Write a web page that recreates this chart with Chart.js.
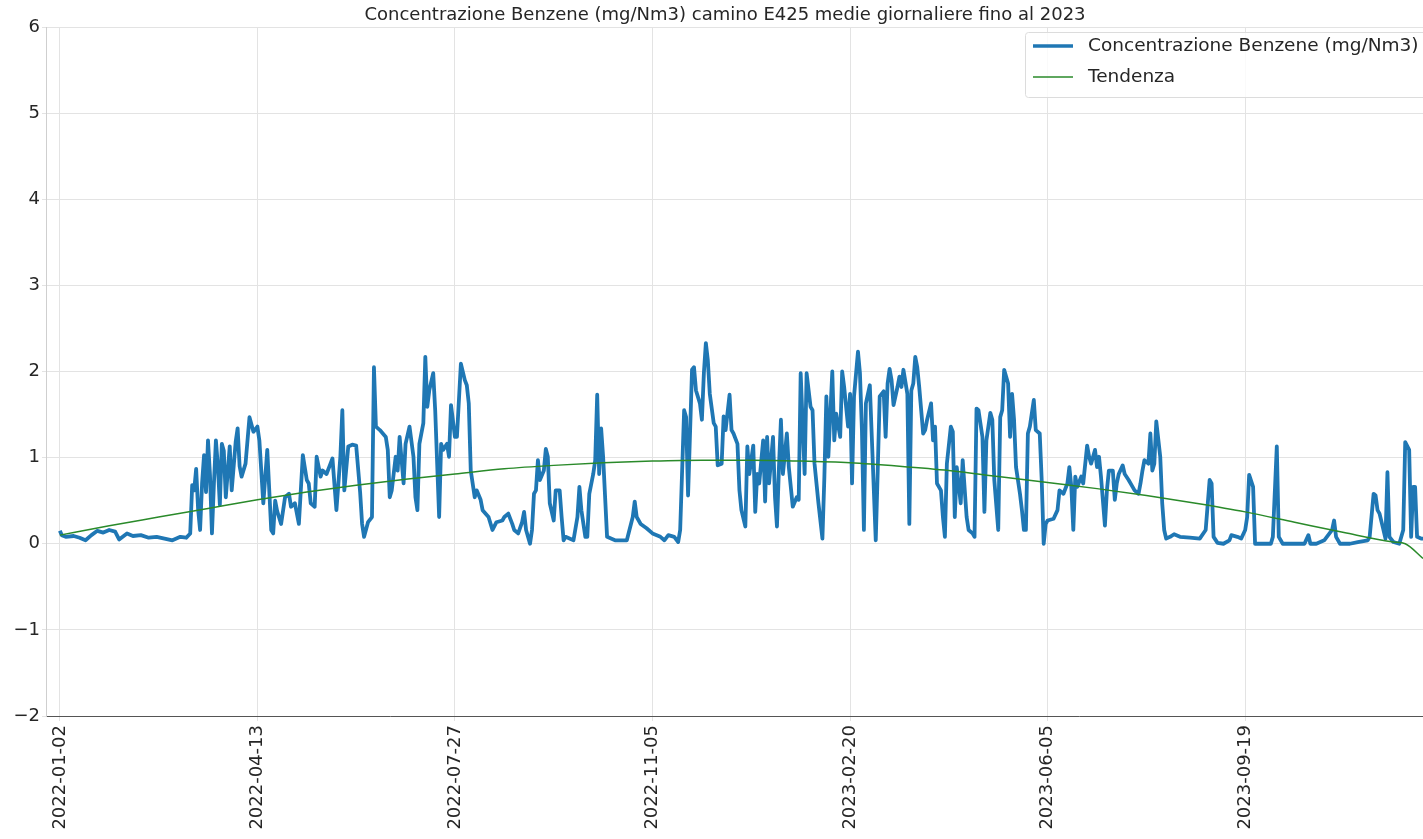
<!DOCTYPE html>
<html lang="it">

<head>
    <meta charset="UTF-8">
    <title>Concentrazione Benzene E425</title>
    <script src="https://cdn.jsdelivr.net/npm/chart.js"></script>
    <style>
        body { margin: 0; background: #fff; overflow: hidden; }
        .wrap { width: 1423px; height: 839px; position: relative; }
    </style>
</head>

<body>
    <div class="wrap"><canvas id="chart"></canvas></div>

    <script>
        // tick sull'asse x (indice del giorno -> data)
        const tickDays = [0, 100, 200, 300, 400, 500, 600];
        const tickDates = ['2022-01-02', '2022-04-13', '2022-07-27', '2022-11-05', '2023-02-20', '2023-06-05', '2023-09-19'];

        // medie giornaliere benzene (indice giorno / valore mg/Nm3)
        const benzeneDay = [
            0, 1, 3, 7, 10, 13, 16, 19, 22, 25, 28, 30, 34, 37, 41, 45, 49, 53, 57, 61, 64, 66,
            67, 68, 69, 70, 71, 72, 73, 74, 75, 76, 77, 78, 79, 80, 81, 82, 83, 84, 86, 87, 88, 89, 90, 91, 92, 94, 96, 98, 100, 101, 103, 105,
            107, 108, 109, 110, 112, 114, 116, 117, 119, 121, 123, 125, 126, 127, 129, 130, 132, 133, 135, 137, 138, 140, 142, 143, 144, 146, 148, 150, 152, 153, 154, 156, 158,
            159, 160, 162, 165, 166, 167, 168, 170, 171, 172, 174, 175, 177, 179, 180, 181, 182, 184, 185, 186, 187, 189, 190, 192, 193, 194, 196, 197, 198, 200, 201, 203, 205, 206, 207, 208, 210, 211, 213, 214, 217, 219, 221, 224,
            225, 227, 229, 230, 232, 234, 235, 236, 238, 239, 240, 241, 242, 243, 245, 246, 247, 248, 250, 251, 253, 254, 255, 256, 258, 260, 262, 263, 264, 266, 267, 268, 270, 271, 272, 273, 274, 275, 277, 279, 281, 284, 287, 290, 291, 292, 294, 297, 300, 304, 306, 308, 311, 313, 314,
            316, 317, 318, 320, 321, 322, 324, 325, 326, 327, 328, 329, 331, 332, 333, 335, 336, 337, 339, 340,
            341, 343, 344, 345, 347, 348, 349, 351, 352, 353, 354, 356, 357, 358, 359, 361, 362, 363, 364, 365, 366, 368, 369, 371, 373, 374, 375, 377, 378, 380, 381, 382, 384, 386, 387, 388, 389, 391, 392, 393, 395, 396, 397, 399, 400,
            401, 402, 404, 405, 406, 407, 408, 410, 411, 413, 414, 415, 417, 418, 419, 420, 421, 422, 424, 425, 426, 427, 429, 430, 431, 432, 433, 434, 435, 437, 438, 439, 441, 442, 443, 444, 446, 447, 448, 449, 451, 452, 453, 454, 456,
            457, 459, 460, 462, 463, 464, 465, 467, 468, 469, 471, 472, 473, 475, 476, 477, 478, 480, 481, 482, 483, 484, 486, 487, 488, 489, 490, 491, 493, 494, 496, 497, 498, 499, 500,
            503, 505, 506, 508, 510, 511, 512, 513, 514, 515, 517, 518, 520, 521, 522, 524, 525, 526, 527, 529, 530, 531, 533, 534, 535, 536, 538, 539, 541, 543, 544, 546, 547, 548, 549, 551, 552, 553, 554, 555, 557, 558, 559, 560, 562, 564, 567, 572, 577,
            580, 582, 583, 584, 586, 589, 592, 593, 596, 598, 600, 601, 602, 604, 605, 608, 613, 614, 616, 617, 619, 623, 630, 632, 633, 636, 640, 644, 645, 646, 648, 653, 657, 662, 663,
            665, 666, 667, 668, 670, 671, 672, 673, 675, 678, 680, 681, 683, 684, 685, 686, 687, 689, 690
        ];
        const benzeneVal = [
            0.15, 0.10, 0.08, 0.09, 0.07, 0.04, 0.10, 0.15, 0.13, 0.16, 0.14, 0.05, 0.12, 0.09, 0.10, 0.07, 0.08, 0.06, 0.04, 0.08, 0.07, 0.12,
            0.68, 0.62, 0.87, 0.40, 0.16, 0.70, 1.03, 0.60, 1.20, 0.80, 0.12, 0.70, 1.20, 0.90, 0.45, 1.16, 1.08, 0.54, 1.13, 0.62, 0.90, 1.18, 1.34, 0.90, 0.78, 0.93, 1.47, 1.30, 1.36, 1.20, 0.47, 1.09,
            0.16, 0.12, 0.50, 0.38, 0.23, 0.54, 0.58, 0.43, 0.47, 0.23, 1.03, 0.74, 0.70, 0.47, 0.43, 1.01, 0.78, 0.85, 0.81, 0.93, 0.99, 0.39, 1.01, 1.55, 0.62, 1.13, 1.15, 1.14, 0.60, 0.23, 0.08, 0.25, 0.31,
            2.05, 1.36, 1.32, 1.24, 1.09, 0.54, 0.62, 1.01, 0.85, 1.24, 0.70, 1.16, 1.36, 1.01, 0.54, 0.39, 1.16, 1.40, 2.17, 1.59, 1.78, 1.98, 1.55, 0.31, 1.16, 1.09, 1.16, 1.01, 1.61, 1.24, 1.24, 2.09, 1.90, 1.84, 1.63, 0.85, 0.54, 0.62, 0.51, 0.39, 0.31, 0.16, 0.25, 0.27,
            0.31, 0.35, 0.23, 0.16, 0.12, 0.25, 0.37, 0.16, 0.00, 0.16, 0.58, 0.62, 0.97, 0.74, 0.85, 1.10, 1.01, 0.47, 0.27, 0.62, 0.62, 0.31, 0.04, 0.08, 0.06, 0.04, 0.31, 0.66, 0.39, 0.08, 0.08, 0.58, 0.81, 0.97, 1.73, 0.81, 1.34, 1.01, 0.08, 0.06, 0.04, 0.04, 0.04, 0.31, 0.49, 0.31, 0.23, 0.18, 0.12, 0.08, 0.04, 0.10, 0.08, 0.02, 0.16,
            1.55, 1.47, 0.56, 2.02, 2.05, 1.78, 1.63, 1.44, 1.98, 2.33, 2.13, 1.74, 1.40, 1.36, 0.91, 0.93, 1.48, 1.32, 1.73, 1.32,
            1.28, 1.16, 0.62, 0.39, 0.20, 1.13, 0.81, 1.14, 0.37, 0.81, 0.70, 1.20, 0.49, 1.24, 0.70, 1.24, 0.54, 0.20, 0.89, 1.44, 0.81, 1.28, 0.89, 0.43, 0.54, 0.51, 1.98, 0.81, 1.98, 1.59, 1.55, 0.93, 0.47, 0.06, 0.78, 1.71, 1.01, 2.00, 1.20, 1.51, 1.24, 2.00, 1.82, 1.36, 1.74,
            0.70, 1.71, 2.23, 1.98, 1.32, 0.16, 1.63, 1.84, 1.24, 0.04, 0.85, 1.71, 1.77, 1.24, 1.86, 2.03, 1.90, 1.61, 1.82, 1.94, 1.82, 2.02, 1.74, 0.23, 1.78, 1.86, 2.17, 2.05, 1.82, 1.28, 1.32, 1.44, 1.63, 1.20, 1.36, 0.70, 0.62, 0.31, 0.08, 0.93, 1.36, 1.30, 0.31, 0.89, 0.47,
            0.97, 0.31, 0.16, 0.12, 0.08, 1.57, 1.55, 1.24, 0.37, 1.20, 1.52, 1.44, 0.74, 0.16, 1.47, 1.55, 2.02, 1.86, 1.24, 1.74, 1.44, 0.89, 0.58, 0.39, 0.16, 0.16, 1.28, 1.36, 1.67, 1.32, 1.28, 0.74, 0.00, 0.23, 0.27,
            0.29, 0.39, 0.62, 0.58, 0.70, 0.89, 0.66, 0.16, 0.78, 0.66, 0.78, 0.70, 1.14, 1.01, 0.93, 1.09, 0.89, 1.01, 0.78, 0.21, 0.62, 0.85, 0.85, 0.51, 0.70, 0.81, 0.91, 0.81, 0.74, 0.66, 0.62, 0.58, 0.70, 0.85, 0.97, 0.93, 1.28, 0.85, 0.93, 1.42, 1.01, 0.47, 0.16, 0.06, 0.08, 0.11, 0.08, 0.07, 0.06,
            0.16, 0.74, 0.70, 0.08, 0.01, 0.00, 0.04, 0.10, 0.08, 0.06, 0.16, 0.31, 0.80, 0.66, 0.00, 0.00, 0.00, 0.08, 1.13, 0.08, 0.00, 0.00, 0.00, 0.10, 0.00, 0.00, 0.04, 0.16, 0.27, 0.08, 0.00, 0.00, 0.02, 0.04, 0.08,
            0.58, 0.56, 0.39, 0.35, 0.16, 0.06, 0.83, 0.08, 0.02, 0.00, 0.16, 1.18, 1.09, 0.08, 0.66, 0.66, 0.08, 0.06, 0.06
        ];

        // linea di tendenza
        const trendDay = [0, 25, 50, 75, 100, 125, 150, 175, 200, 225, 250, 275, 300, 325, 350, 375, 400, 425, 450, 475, 500, 525, 550, 575, 600, 625, 650, 675, 681, 690];
        const trendVal = [0.10, 0.21, 0.31, 0.41, 0.51, 0.60, 0.68, 0.75, 0.81, 0.87, 0.91, 0.94, 0.96, 0.97, 0.97, 0.96, 0.94, 0.90, 0.85, 0.78, 0.71, 0.64, 0.56, 0.47, 0.37, 0.25, 0.13, 0.02, 0.00, -0.17];

        const titolo = 'Concentrazione Benzene (mg/Nm3) camino E425 medie giornaliere fino al 2023';
        const serieNomi = ['Concentrazione Benzene (mg/Nm3)', 'Tendenza'];
        const serieColori = ['#1f77b4', '#2a8a2a'];

        const font = 'DejaVu Sans';

        // titolo + legenda disegnati a mano (stile matplotlib)
        const decorazioni = {
            id: 'decorazioni',
            afterDraw(chart) {
                const ctx = chart.ctx;
                ctx.save();
                ctx.fillStyle = '#262626';
                ctx.font = '18px "' + font + '"';
                ctx.textAlign = 'center';
                ctx.textBaseline = 'middle';
                ctx.fillText(titolo, 725, 15);

                // box legenda
                ctx.fillStyle = 'rgba(255,255,255,0.8)';
                ctx.strokeStyle = '#dcdcdc';
                ctx.lineWidth = 1;
                ctx.beginPath();
                ctx.roundRect(1025.5, 32.5, 430, 65, 3);
                ctx.fill();
                ctx.stroke();

                ctx.textAlign = 'left';
                ctx.fillStyle = '#262626';
                ctx.font = '18.5px "' + font + '"';
                const righe = [46, 77];
                const spessori = [3.5, 1.5];
                for (let i = 0; i < serieNomi.length; i++) {
                    ctx.strokeStyle = serieColori[i];
                    ctx.lineWidth = spessori[i];
                    ctx.beginPath();
                    ctx.moveTo(1033, righe[i]);
                    ctx.lineTo(1073, righe[i]);
                    ctx.stroke();
                    ctx.fillText(serieNomi[i], 1088, righe[i]);
                }
                ctx.restore();
            }
        };

        const ctx = document.getElementById('chart').getContext('2d');
        const chart = new Chart(ctx, {
            type: 'line',
            data: {
                datasets: [
                    {
                        label: serieNomi[1],
                        data: trendDay.map((d, i) => ({ x: d, y: trendVal[i] })),
                        borderColor: serieColori[1],
                        borderWidth: 1.5,
                        pointRadius: 0,
                        cubicInterpolationMode: 'monotone',
                        order: 0
                    },
                    {
                        label: serieNomi[0],
                        data: benzeneDay.map((d, i) => ({ x: d, y: benzeneVal[i] })),
                        borderColor: serieColori[0],
                        borderWidth: 3.8,
                        borderJoinStyle: 'round',
                        pointRadius: 0,
                        tension: 0,
                        order: 1
                    }
                ]
            },
            options: {
                responsive: true,
                maintainAspectRatio: false,
                animation: false,
                layout: { padding: { top: 27, right: 0, left: 0, bottom: 0 } },
                plugins: {
                    legend: { display: false },
                    title: { display: false },
                    tooltip: { enabled: false }
                },
                scales: {
                    x: {
                        type: 'linear',
                        min: -7,
                        max: 690,
                        afterBuildTicks: (scale) => {
                            scale.ticks = tickDays.map(v => ({ value: v }));
                        },
                        afterFit: (scale) => { scale.height = 123; },
                        ticks: {
                            autoSkip: false,
                            minRotation: 90,
                            maxRotation: 90,
                            padding: 4,
                            color: '#262626',
                            font: { family: font, size: 18 },
                            callback: (v) => {
                                const k = tickDays.indexOf(v);
                                return k >= 0 ? tickDates[k] : '';
                            }
                        },
                        grid: { color: '#e3e3e3', tickLength: 5 },
                        border: { color: '#555', width: 1 }
                    },
                    y: {
                        min: -2,
                        max: 6,
                        afterFit: (scale) => { scale.width = 46; },
                        ticks: {
                            stepSize: 1,
                            padding: 2,
                            color: '#262626',
                            font: { family: font, size: 18 },
                            callback: (v) => String(v).replace('-', '\u2212')
                        },
                        grid: { color: '#e3e3e3', tickLength: 4 },
                        border: { color: '#cfcfcf', width: 1 }
                    }
                }
            },
            plugins: [decorazioni]
        });
    </script>
</body>

</html>
